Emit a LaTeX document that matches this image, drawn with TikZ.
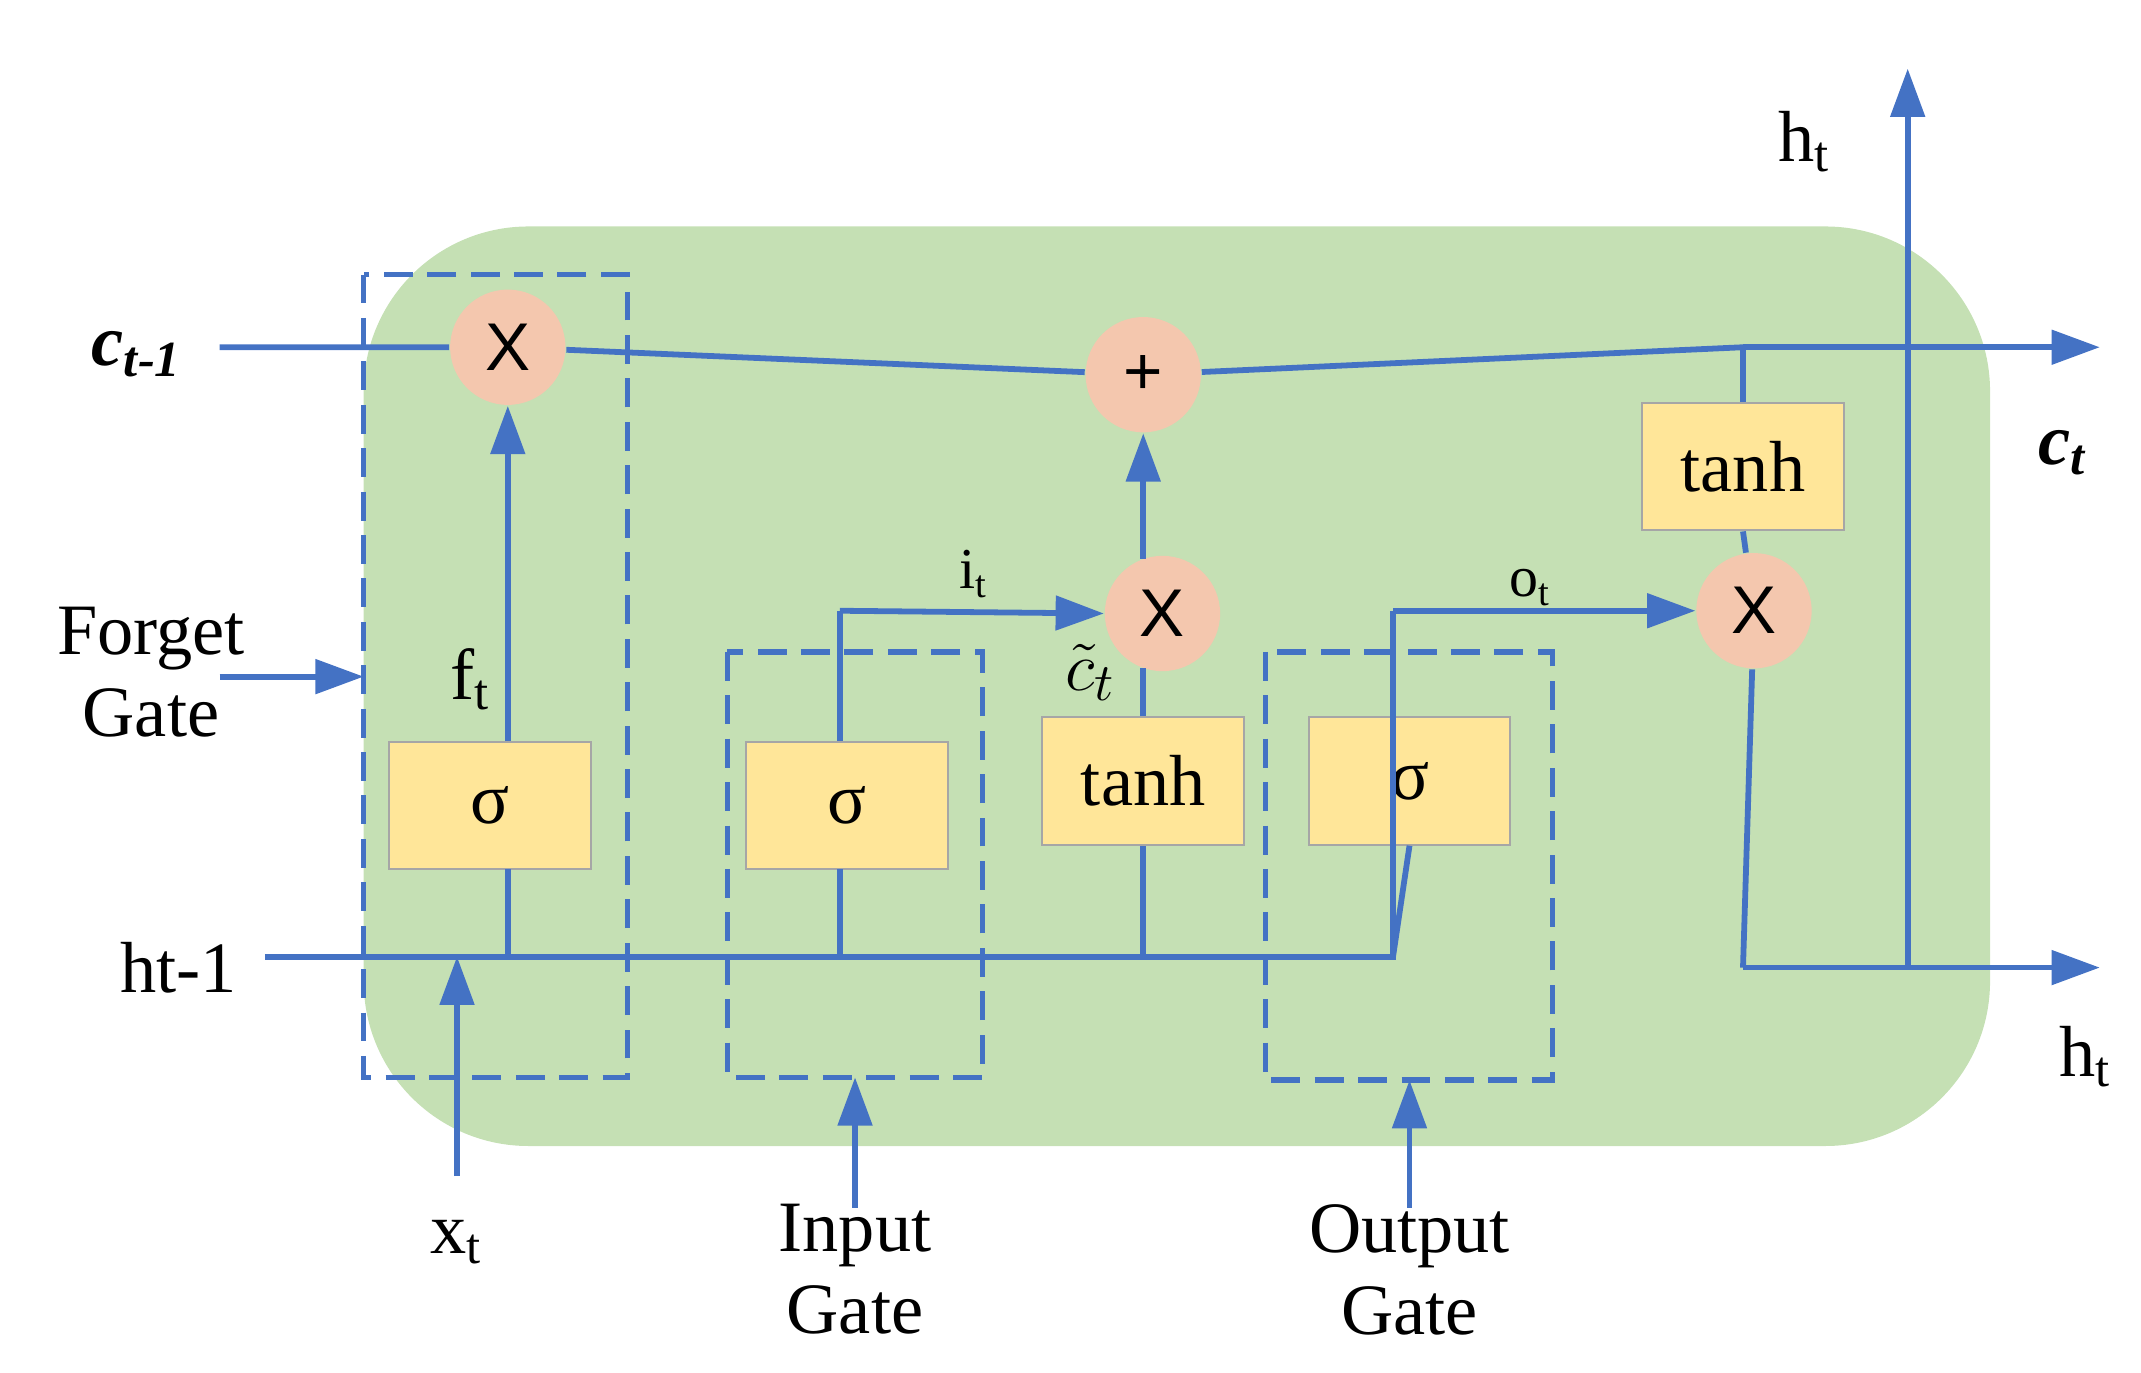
\documentclass[tikz,border=0pt]{standalone}
\usepackage{fontspec}
\setmainfont{Liberation Serif}
\newfontfamily\sansx{Liberation Sans}
\usetikzlibrary{arrows.meta}
\definecolor{bl}{HTML}{4472C4}
\definecolor{gr}{HTML}{C5E0B4}
\definecolor{ye}{HTML}{FFE699}
\definecolor{pk}{HTML}{F4C7AE}
\begin{document}
\begin{tikzpicture}[x=0.1mm,y=-0.1mm,
 ln/.style={draw=bl,line width=1.2pt},
 ar/.style={ln,-{Triangle[length=10pt,width=7pt]}},
 dbox/.style={draw=bl,line width=1.1pt,dash pattern=on 6pt off 3pt},
 ybox/.style={draw=gray!70,fill=ye,minimum width=14.7mm,minimum height=9.3mm,inner sep=0pt,font=\fontsize{15}{15}\selectfont},
 circ/.style={circle,fill=pk,minimum size=8.4mm,inner sep=0pt,font=\sansx\fontsize{14}{14}\selectfont},
 lab/.style={font=\fontsize{15}{17}\selectfont,align=center}]
\useasboundingbox (0,0) rectangle (1560,1000);
\fill[gr,rounded corners=12mm] (265,165) rectangle (1450,835);
% dashed gate boxes
\draw[dbox] (265,200) rectangle (457,785);
\draw[dbox] (530,475) rectangle (716,785);
\draw[dbox] (922,475) rectangle (1131,787);
% nodes
\node[circ] (m1) at (370,253) {X};
\node[circ] (p) at (833,273) {+};
\node[circ] (m2) at (847,447) {X};
\node[circ] (m3) at (1278,445) {X};
\node[ybox] (sf) at (357,587) {σ};
\node[ybox] (si) at (617,587) {σ};
\node[ybox] (tc) at (833,569) {tanh};
\node[ybox] (so) at (1027,569) {σ};
\node[ybox] (tt) at (1270,340) {tanh};
\coordinate (cin) at (160,253);
\coordinate (cout) at (1530,253);
\coordinate (hin) at (193,697);
\coordinate (hj) at (1015,697);
\coordinate (hout) at (1530,705);
\coordinate (hc) at (1270,705);
\coordinate (hv) at (1390,705);
\coordinate (htop) at (1390,50);
% lines
\draw[ln] (cin) -- (m1) -- (p) -- (1270,253);
\draw[ar] (1270,253) -- (cout);
\draw[ln] (1270,253) -- (tt.north);
\draw[ln] (tt.south) -- (m3);
\draw[ln] (hin) -- (hj) -- (1015,445);
\draw[ar] (1015,445) -- (m3);
\draw[ln] (370,697) -- (370,633);
\draw[ar] (370,540) -- (m1);
\draw[ln] (612,697) -- (612,633);
\draw[ln] (612,540) -- (612,445);
\draw[ar] (612,445) -- (m2.west);
\draw[ln] (833,697) -- (tc.south);
\draw[ln] (tc.north) -- (833,487);
\draw[ar] (833,407) -- (p);
\draw[ln] (1015,697) -- (so.south);
\draw[ln] (m3) -- (hc);
\draw[ar] (hc) -- (hout);
\draw[ar] (hv) -- (htop);
\draw[ar] (160,493) -- (265,493);
\draw[ar] (333,857) -- (333,697);
\draw[ar] (623,880) -- (623,785);
\draw[ar] (1027,880) -- (1027,787);
% labels
\node[lab] at (100,258) {\textbf{\textit{c\textsubscript{t-1}}}};
\node[lab] at (1503,330) {\textbf{\textit{c\textsubscript{t}}}};
\node[lab] at (110,490) {Forget\\Gate};
\node[lab] at (343,495) {f\textsubscript{t}};
\node[lab] at (130,705) {ht-1};
\node[lab] at (333,905) {x\textsubscript{t}};
\node[lab] at (623,925) {Input\\Gate};
\node[lab] at (1027,925) {Output\\Gate};
\node[lab,font=\fontsize{12}{12}\selectfont] at (710,418) {i\textsubscript{t}};
\node[lab,font=\fontsize{12}{12}\selectfont] at (1115,428) {o\textsubscript{t}};
\node[lab] at (795,490) {\textbf{$\tilde{c}_t$}};
\node[lab] at (1315,103) {h\textsubscript{t}};
\node[lab] at (1520,770) {h\textsubscript{t}};
\end{tikzpicture}
\end{document}
